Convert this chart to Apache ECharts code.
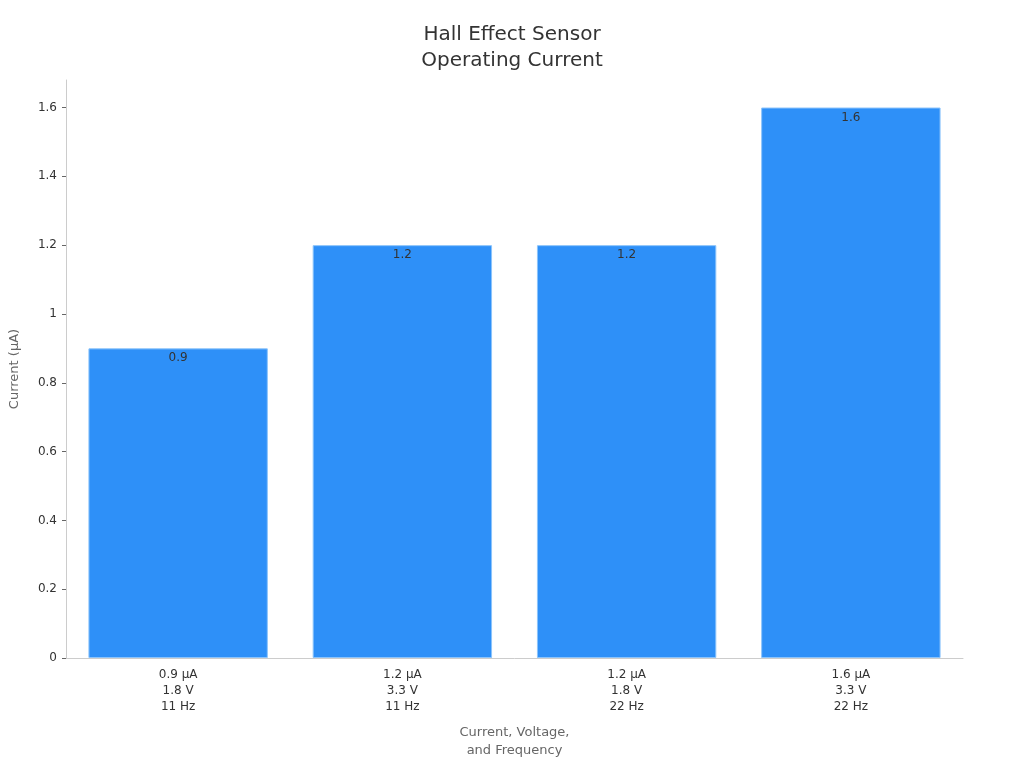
<!DOCTYPE html>
<html><head><meta charset="utf-8">
<script src="https://cdn.jsdelivr.net/npm/echarts@6/dist/echarts.min.js"></script>
<style>html,body{margin:0;padding:0;background:#fff}#c{width:1024px;height:768px}</style>
</head><body><div id="c"></div>
<script>
const categories = ['0.9 µA\n1.8 V\n11 Hz', '1.2 µA\n3.3 V\n11 Hz', '1.2 µA\n1.8 V\n22 Hz', '1.6 µA\n3.3 V\n22 Hz'];
const currents = [0.9, 1.2, 1.2, 1.6];
const yTicks = [0, 0.2, 0.4, 0.6, 0.8, 1, 1.2, 1.4, 1.6];
const chart = echarts.init(document.getElementById('c'));
const font = 'DejaVu Sans';
chart.setOption({
  animation: false,
  textStyle: { fontFamily: font },
  title: {
    text: 'Hall Effect Sensor\nOperating Current',
    left: 'center', top: 17,
    textStyle: { fontFamily: font, fontSize: 20, fontWeight: 'normal', color: '#333', lineHeight: 26 }
  },
  grid: { left: 64, right: 61, top: 80, bottom: 110 },
  xAxis: {
    type: 'category', data: categories,
    name: 'Current, Voltage,\nand Frequency', nameLocation: 'middle', nameGap: 66,
    nameTextStyle: { fontFamily: font, fontSize: 13, color: '#666', lineHeight: 18 },
    axisLine: { lineStyle: { color: '#ccc' } },
    axisTick: { alignWithLabel: true, length: 4, lineStyle: { color: '#666' } },
    axisLabel: { fontFamily: font, fontSize: 12, color: '#333', lineHeight: 16, margin: 9 }
  },
  yAxis: {
    type: 'value', min: 0, max: 1.68,
    name: 'Current (µA)', nameLocation: 'middle', nameGap: 45,
    nameTextStyle: { fontFamily: font, fontSize: 13, color: '#666' },
    axisLine: { show: true, lineStyle: { color: '#ccc' } },
    axisTick: { show: true, length: 4, lineStyle: { color: '#666' }, customValues: yTicks },
    splitLine: { show: false },
    axisLabel: { fontFamily: font, fontSize: 12, color: '#333', margin: 9, customValues: yTicks,
      formatter: v => (Math.round(v * 10) / 10).toString() }
  },
  series: [{
    type: 'bar', data: currents, barWidth: '80%',
    itemStyle: { color: '#2e90f8', borderColor: '#8cc4fb', borderWidth: 1 },
    label: { show: true, position: 'insideTop', distance: 4, fontFamily: font, fontSize: 12, color: '#333' }
  }]
});
</script></body></html>
